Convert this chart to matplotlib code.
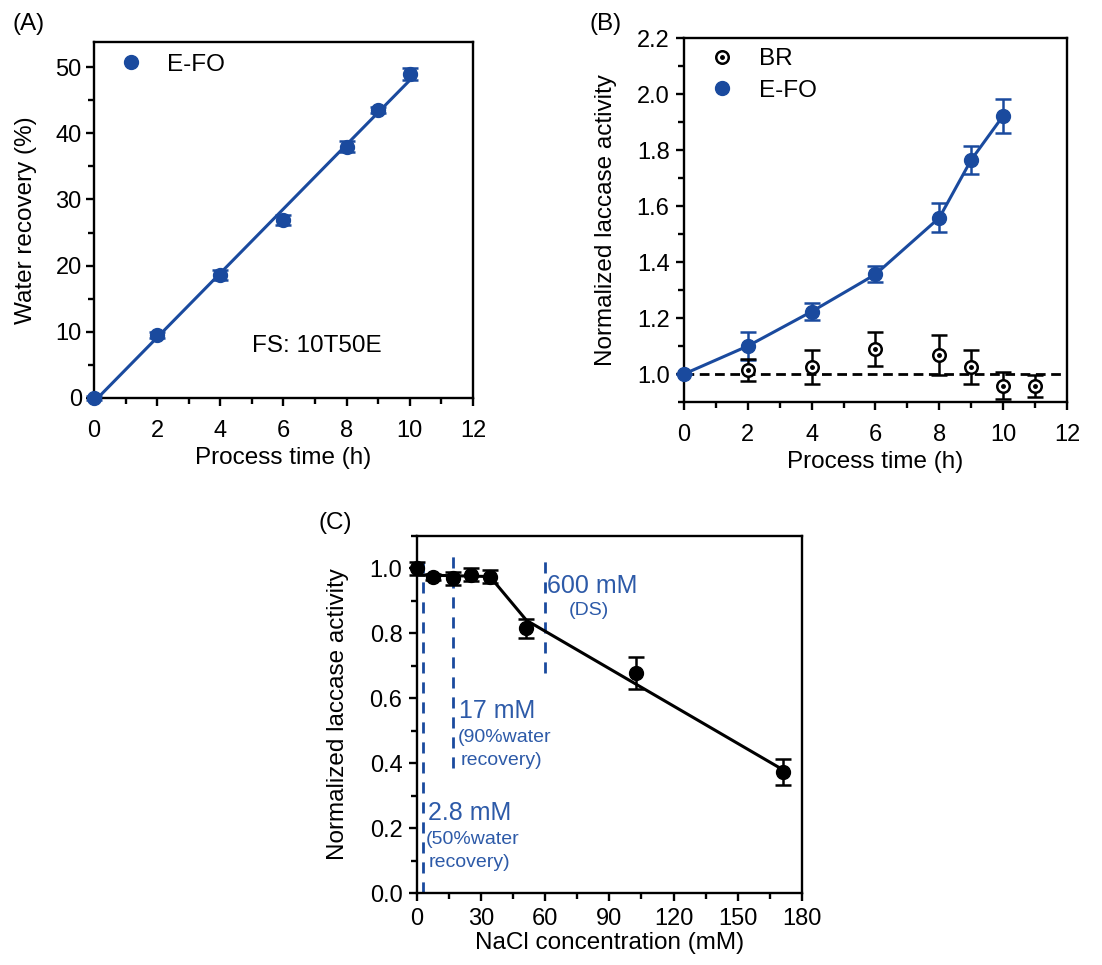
import numpy as np
import matplotlib
matplotlib.use("Agg")
import matplotlib.pyplot as plt
from matplotlib.ticker import MultipleLocator
from matplotlib.lines import Line2D

plt.rcParams['font.family'] = ['Liberation Sans', 'DejaVu Sans']
plt.rcParams['font.size'] = 17

BLUE = '#1a4a9e'
TXT_BLUE = '#2d5aa8'
LAB = 17.5

# (A) water recovery, E-FO
a_time = [0, 2, 4, 6, 8, 9, 10]
a_recovery = [0.0, 9.5, 18.6, 26.9, 38.0, 43.5, 49.0]
a_err = [0.3, 0.5, 0.8, 0.8, 0.9, 0.5, 0.9]

# (B) normalized laccase activity vs time
b_efo_time = [0, 2, 4, 6, 8, 9, 10]
b_efo_act = [1.0, 1.10, 1.223, 1.356, 1.558, 1.765, 1.922]
b_efo_err = [0.0, 0.05, 0.03, 0.028, 0.052, 0.05, 0.06]
b_br_time = [2, 4, 6, 8, 9, 10, 11]
b_br_act = [1.014, 1.026, 1.089, 1.068, 1.026, 0.958, 0.958]
b_br_err = [0.04, 0.06, 0.06, 0.07, 0.06, 0.048, 0.04]

# (C) laccase activity vs NaCl
c_nacl = [0, 7.8, 17.1, 25.2, 34.2, 51.3, 102.6, 171]
c_act = [1.0, 0.974, 0.97, 0.98, 0.974, 0.815, 0.677, 0.372]
c_err = [0.02, 0.01, 0.02, 0.02, 0.02, 0.03, 0.05, 0.04]
c_trend_x = [0, 34.2, 51.3, 171]
c_trend_y = [0.98, 0.975, 0.84, 0.38]

# reference concentrations (mM) and the span of each dashed marker
c_ref_conc = [2.8, 17, 60]
c_ref_lo = [0.0, 0.385, 0.677]
c_ref_hi = [1.046, 1.048, 1.036]


def style_axes(ax, xpad, ypad, xlab_pos, ylab_pos):
    for s in ax.spines.values():
        s.set_linewidth(1.7)
    ax.tick_params(which='major', direction='out', length=6, width=1.7,
                   labelsize=17)
    ax.tick_params(which='minor', direction='out', length=4.5, width=1.7)
    ax.tick_params(axis='x', which='major', pad=xpad)
    ax.tick_params(axis='y', which='major', pad=ypad)
    ax.xaxis.set_label_coords(*xlab_pos)
    ax.yaxis.set_label_coords(*ylab_pos)
    ax.xaxis.label.set_va('center')
    ax.yaxis.label.set_va('center')


fig = plt.figure(figsize=(11.02, 9.65), dpi=100)

# ---- (A) ----
axA = fig.add_axes([0.0853, 0.5876, 0.3439, 0.3689])
fit = np.polyfit(a_time, a_recovery, 1)
xf = np.array([a_time[0], a_time[-1]])
axA.plot(xf, np.polyval(fit, xf), color=BLUE, lw=2.2, clip_on=False)
axA.errorbar(a_time, a_recovery, yerr=a_err, fmt='o', color=BLUE, ms=10,
             capsize=5.5, elinewidth=1.8, capthick=1.8, clip_on=False, zorder=3)
axA.set_xlim(0, 12)
axA.set_ylim(0, 53.8)
axA.xaxis.set_major_locator(MultipleLocator(2))
axA.xaxis.set_minor_locator(MultipleLocator(1))
axA.yaxis.set_major_locator(MultipleLocator(10))
axA.yaxis.set_minor_locator(MultipleLocator(5))
axA.set_xlabel('Process time (h)', fontsize=LAB)
axA.set_ylabel('Water recovery (%)', fontsize=LAB)
axA.text(5.0, 7.9, 'FS: 10T50E', fontsize=LAB, va='center')
axA.legend(handles=[Line2D([], [], ls='none', marker='o', ms=10, color=BLUE)],
           labels=['E-FO'], loc='upper left', frameon=False, fontsize=LAB,
           handlelength=1.0, handletextpad=1.0, borderaxespad=0.2,
           bbox_to_anchor=(0.027, 1.008))
style_axes(axA, 10, 2.8, (0.5, -0.1685), (-0.18, 0.5))
fig.text(0.011, 0.975, '(A)', fontsize=LAB, va='center')

# ---- (B) ----
axB = fig.add_axes([0.6207, 0.5834, 0.3475, 0.3772])
axB.axhline(1.0, color='black', lw=2, ls=(0, (3.5, 2)), zorder=1)
axB.plot(b_efo_time, b_efo_act, color=BLUE, lw=2.2, zorder=2, clip_on=False)
axB.errorbar(b_efo_time, b_efo_act, yerr=b_efo_err, fmt='o', color=BLUE,
             ms=10, capsize=5.5, elinewidth=1.8, capthick=1.8, zorder=3,
             clip_on=False)
axB.errorbar(b_br_time, b_br_act, yerr=b_br_err, fmt='o', mfc='white',
             mec='black', mew=1.8, ms=9, ecolor='black', capsize=5.5,
             elinewidth=1.8, capthick=1.8, zorder=4, clip_on=False)
axB.plot(b_br_time, b_br_act, ls='none', marker='o', ms=2.5, color='black',
         zorder=5, clip_on=False)
axB.set_xlim(0, 12)
axB.set_ylim(0.9, 2.2)
axB.xaxis.set_major_locator(MultipleLocator(2))
axB.xaxis.set_minor_locator(MultipleLocator(1))
axB.yaxis.set_minor_locator(MultipleLocator(0.1))
axB.set_yticks([1.0, 1.2, 1.4, 1.6, 1.8, 2.0, 2.2])
axB.set_yticklabels(['1.0', '1.2', '1.4', '1.6', '1.8', '2.0', '2.2'])
axB.set_xlabel('Process time (h)', fontsize=LAB)
axB.set_ylabel('Normalized laccase activity', fontsize=LAB)
br_h = (Line2D([], [], ls='none', marker='o', ms=9, mfc='white',
               mec='black', mew=1.8),
        Line2D([], [], ls='none', marker='o', ms=2.5, color='black'))
efo_h = Line2D([], [], ls='none', marker='o', ms=10, color=BLUE)
axB.legend(handles=[br_h, efo_h], labels=['BR', 'E-FO'], loc='upper left',
           frameon=False, fontsize=LAB, handlelength=1.0, handletextpad=1.0,
           labelspacing=0.4, borderaxespad=0.2, bbox_to_anchor=(0.0295, 1.012))
style_axes(axB, 10, 4.4, (0.5, -0.165), (-0.204, 0.5))
fig.text(0.535, 0.975, '(B)', fontsize=LAB, va='center')

# ---- (C) ----
axC = fig.add_axes([0.3781, 0.0746, 0.3497, 0.37])
for xc, lo, hi in zip(c_ref_conc, c_ref_lo, c_ref_hi):
    axC.plot([xc, xc], [lo, hi], color=BLUE, lw=2, ls=(0, (4, 3.2)), zorder=1)
axC.plot(c_trend_x, c_trend_y, color='black', lw=2.2, zorder=2)
axC.errorbar(c_nacl, c_act, yerr=c_err, fmt='o', color='black', ms=10,
             capsize=5.5, elinewidth=1.8, capthick=1.8, zorder=3, clip_on=False)
axC.set_xlim(0, 180)
axC.set_ylim(0, 1.1)
axC.xaxis.set_major_locator(MultipleLocator(30))
axC.xaxis.set_minor_locator(MultipleLocator(15))
axC.yaxis.set_minor_locator(MultipleLocator(0.1))
axC.set_yticks([0.0, 0.2, 0.4, 0.6, 0.8, 1.0])
axC.set_yticklabels(['0.0', '0.2', '0.4', '0.6', '0.8', '1.0'])
axC.set_xlabel('NaCl concentration (mM)', fontsize=LAB)
axC.set_ylabel('Normalized laccase activity', fontsize=LAB)

BIG, SMALL = 18, 14
axC.text(61.0, 0.945, '600 mM', color=TXT_BLUE, fontsize=BIG, va='center')
axC.text(80.5, 0.87, '(DS)', color=TXT_BLUE, fontsize=SMALL, va='center',
         ha='center')
axC.text(20.0, 0.56, '17 mM', color=TXT_BLUE, fontsize=BIG, va='center')
axC.text(19.3, 0.478, '(90%water', color=TXT_BLUE, fontsize=SMALL,
         va='center')
axC.text(20.3, 0.408, 'recovery)', color=TXT_BLUE, fontsize=SMALL,
         va='center')
axC.text(5.2, 0.245, '2.8 mM', color=TXT_BLUE, fontsize=BIG, va='center')
axC.text(4.4, 0.164, '(50%water', color=TXT_BLUE, fontsize=SMALL,
         va='center')
axC.text(5.5, 0.094, 'recovery)', color=TXT_BLUE, fontsize=SMALL,
         va='center')
style_axes(axC, 5, 4.2, (0.5, -0.14), (-0.203, 0.5))
fig.text(0.289, 0.458, '(C)', fontsize=LAB, va='center')

fig.savefig('out.png', dpi=100)
